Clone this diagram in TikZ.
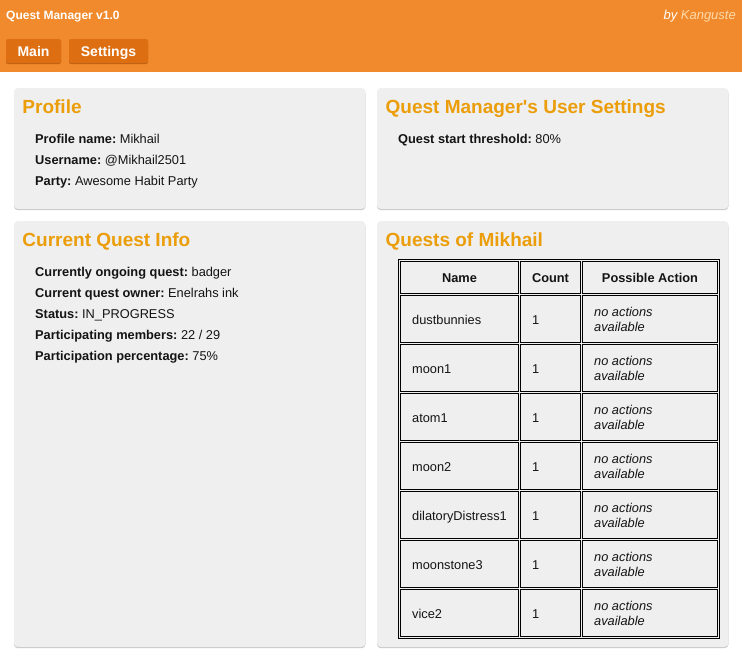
\documentclass[tikz,border=0pt]{standalone}
\usepackage{fontspec}
\setmainfont{Liberation Sans}
\definecolor{hdr}{RGB}{240,138,44}
\definecolor{btn}{RGB}{221,111,18}
\definecolor{btnsh}{RGB}{190,95,20}
\definecolor{ttl}{RGB}{235,157,10}
\definecolor{pnl}{RGB}{239,239,239}
\definecolor{psh}{RGB}{200,200,200}
\definecolor{ink}{RGB}{20,20,20}
\definecolor{kang}{RGB}{255,218,170}
\tikzset{
  txt/.style={inner sep=0pt, anchor=base west, font=\fontsize{12.8}{15}\selectfont\frenchspacing, text=ink},
  ctxt/.style={txt, anchor=base},
  itxt/.style={txt, font=\fontsize{12.8}{15}\selectfont\itshape},
  ptitle/.style={inner sep=0pt, anchor=base west, font=\fontsize{19}{22}\selectfont\bfseries, text=ttl},
  btntxt/.style={inner sep=0pt, anchor=base, font=\fontsize{14}{16}\selectfont\bfseries, text=white},
  cellb/.style={draw=black, line width=1pt},
  panelfill/.style={fill=pnl, rounded corners=4pt},
  panelshadow/.style={fill=psh, rounded corners=4pt},
}
\begin{document}
\begin{tikzpicture}[x=1pt,y=-1pt]
\useasboundingbox (0,0) rectangle (742,665);
% header bar
\fill[hdr] (0,0) rectangle (742,72);
\node[inner sep=0pt, anchor=base west, font=\fontsize{12}{14}\selectfont\bfseries, text=white] (apptitle) at (6,19) {Quest Manager v1.0};
\node[inner sep=0pt, anchor=base east, font=\fontsize{13}{15}\selectfont\itshape] (author) at (736,19.5) {\textcolor{white}{by} \textcolor{kang}{Kanguste}};
% buttons
\fill[btnsh, rounded corners=2pt] (6,40) rectangle (61,64);
\fill[btn, rounded corners=2pt] (6,39) rectangle (61,63);
\node[btntxt] (bmain) at (33.5,56.5) {Main};
\fill[btnsh, rounded corners=2pt] (69,40) rectangle (148,64);
\fill[btn, rounded corners=2pt] (69,39) rectangle (148,63);
\node[btntxt] (bsettings) at (108.5,56.5) {Settings};
% panels
\fill[panelshadow] (14,89.5) rectangle (365.5,210.2);
\fill[panelfill] (14,88) rectangle (365.5,209);
\fill[panelshadow] (377,89.5) rectangle (728.5,210.2);
\fill[panelfill] (377,88) rectangle (728.5,209);
\fill[panelshadow] (14,222.5) rectangle (365.5,648.2);
\fill[panelfill] (14,221) rectangle (365.5,647);
\fill[panelshadow] (377,222.5) rectangle (728.5,648.2);
\fill[panelfill] (377,221) rectangle (728.5,647);
% Profile
\node[ptitle] (tprofile) at (22.3,113) {Profile};
\node[txt] (p1) at (35,143) {\textbf{Profile name:} Mikhail};
\node[txt] (p2) at (35,164.3) {\textbf{Username:} @Mikhail2501};
\node[txt] (p3) at (35,185.6) {\textbf{Party:} Awesome Habit Party};
% Settings
\node[ptitle] (tsettings) at (385.5,113) {Quest Manager\textquotesingle s User Settings};
\node[txt] (s1) at (398,143) {\textbf{Quest start threshold:} 80\%};
% Current quest
\node[ptitle] (tcurrent) at (22.3,246) {Current Quest Info};
\node[txt] (q1) at (35,276.5) {\textbf{Currently ongoing quest:} badger};
\node[txt] (q2) at (35,297.5) {\textbf{Current quest owner:} Enelrahs ink};
\node[txt] (q3) at (35,318.5) {\textbf{Status:} IN\_PROGRESS};
\node[txt] (q4) at (35,339.5) {\textbf{Participating members:} 22 / 29};
\node[txt] (q5) at (35,360.5) {\textbf{Participation percentage:} 75\%};
% Quests table
\node[ptitle] (tquests) at (385.5,246) {Quests of Mikhail};
\draw[cellb] (398.5,259.5) rectangle (719.5,638.5);
\draw[cellb] (400.5,261.5) rectangle (518.5,293.5);
\draw[cellb] (520.5,261.5) rectangle (580.5,293.5);
\draw[cellb] (582.5,261.5) rectangle (717.5,293.5);
\node[ctxt, font=\fontsize{12.8}{15}\selectfont\bfseries] (hname) at (459.5,282.5) {Name};
\node[ctxt, font=\fontsize{12.8}{15}\selectfont\bfseries] (hcount) at (550.5,282.5) {Count};
\node[ctxt, font=\fontsize{12.8}{15}\selectfont\bfseries] (haction) at (650,282.5) {Possible Action};
\foreach \nm [count=\i] in {dustbunnies,moon1,atom1,moon2,dilatoryDistress1,moonstone3,vice2} {
  \pgfmathsetmacro\rt{295.5+49*(\i-1)}
  \draw[cellb] (400.5,\rt) rectangle (518.5,\rt+47);
  \draw[cellb] (520.5,\rt) rectangle (580.5,\rt+47);
  \draw[cellb] (582.5,\rt) rectangle (717.5,\rt+47);
  \node[txt] (n\i) at (412,\rt+28.5) {\nm};
  \node[txt] (c\i) at (532,\rt+28.5) {1};
  \node[itxt] (a\i) at (594,\rt+20.5) {no actions};
  \node[itxt] (b\i) at (594,\rt+35.5) {available};
}
\end{tikzpicture}
\end{document}
